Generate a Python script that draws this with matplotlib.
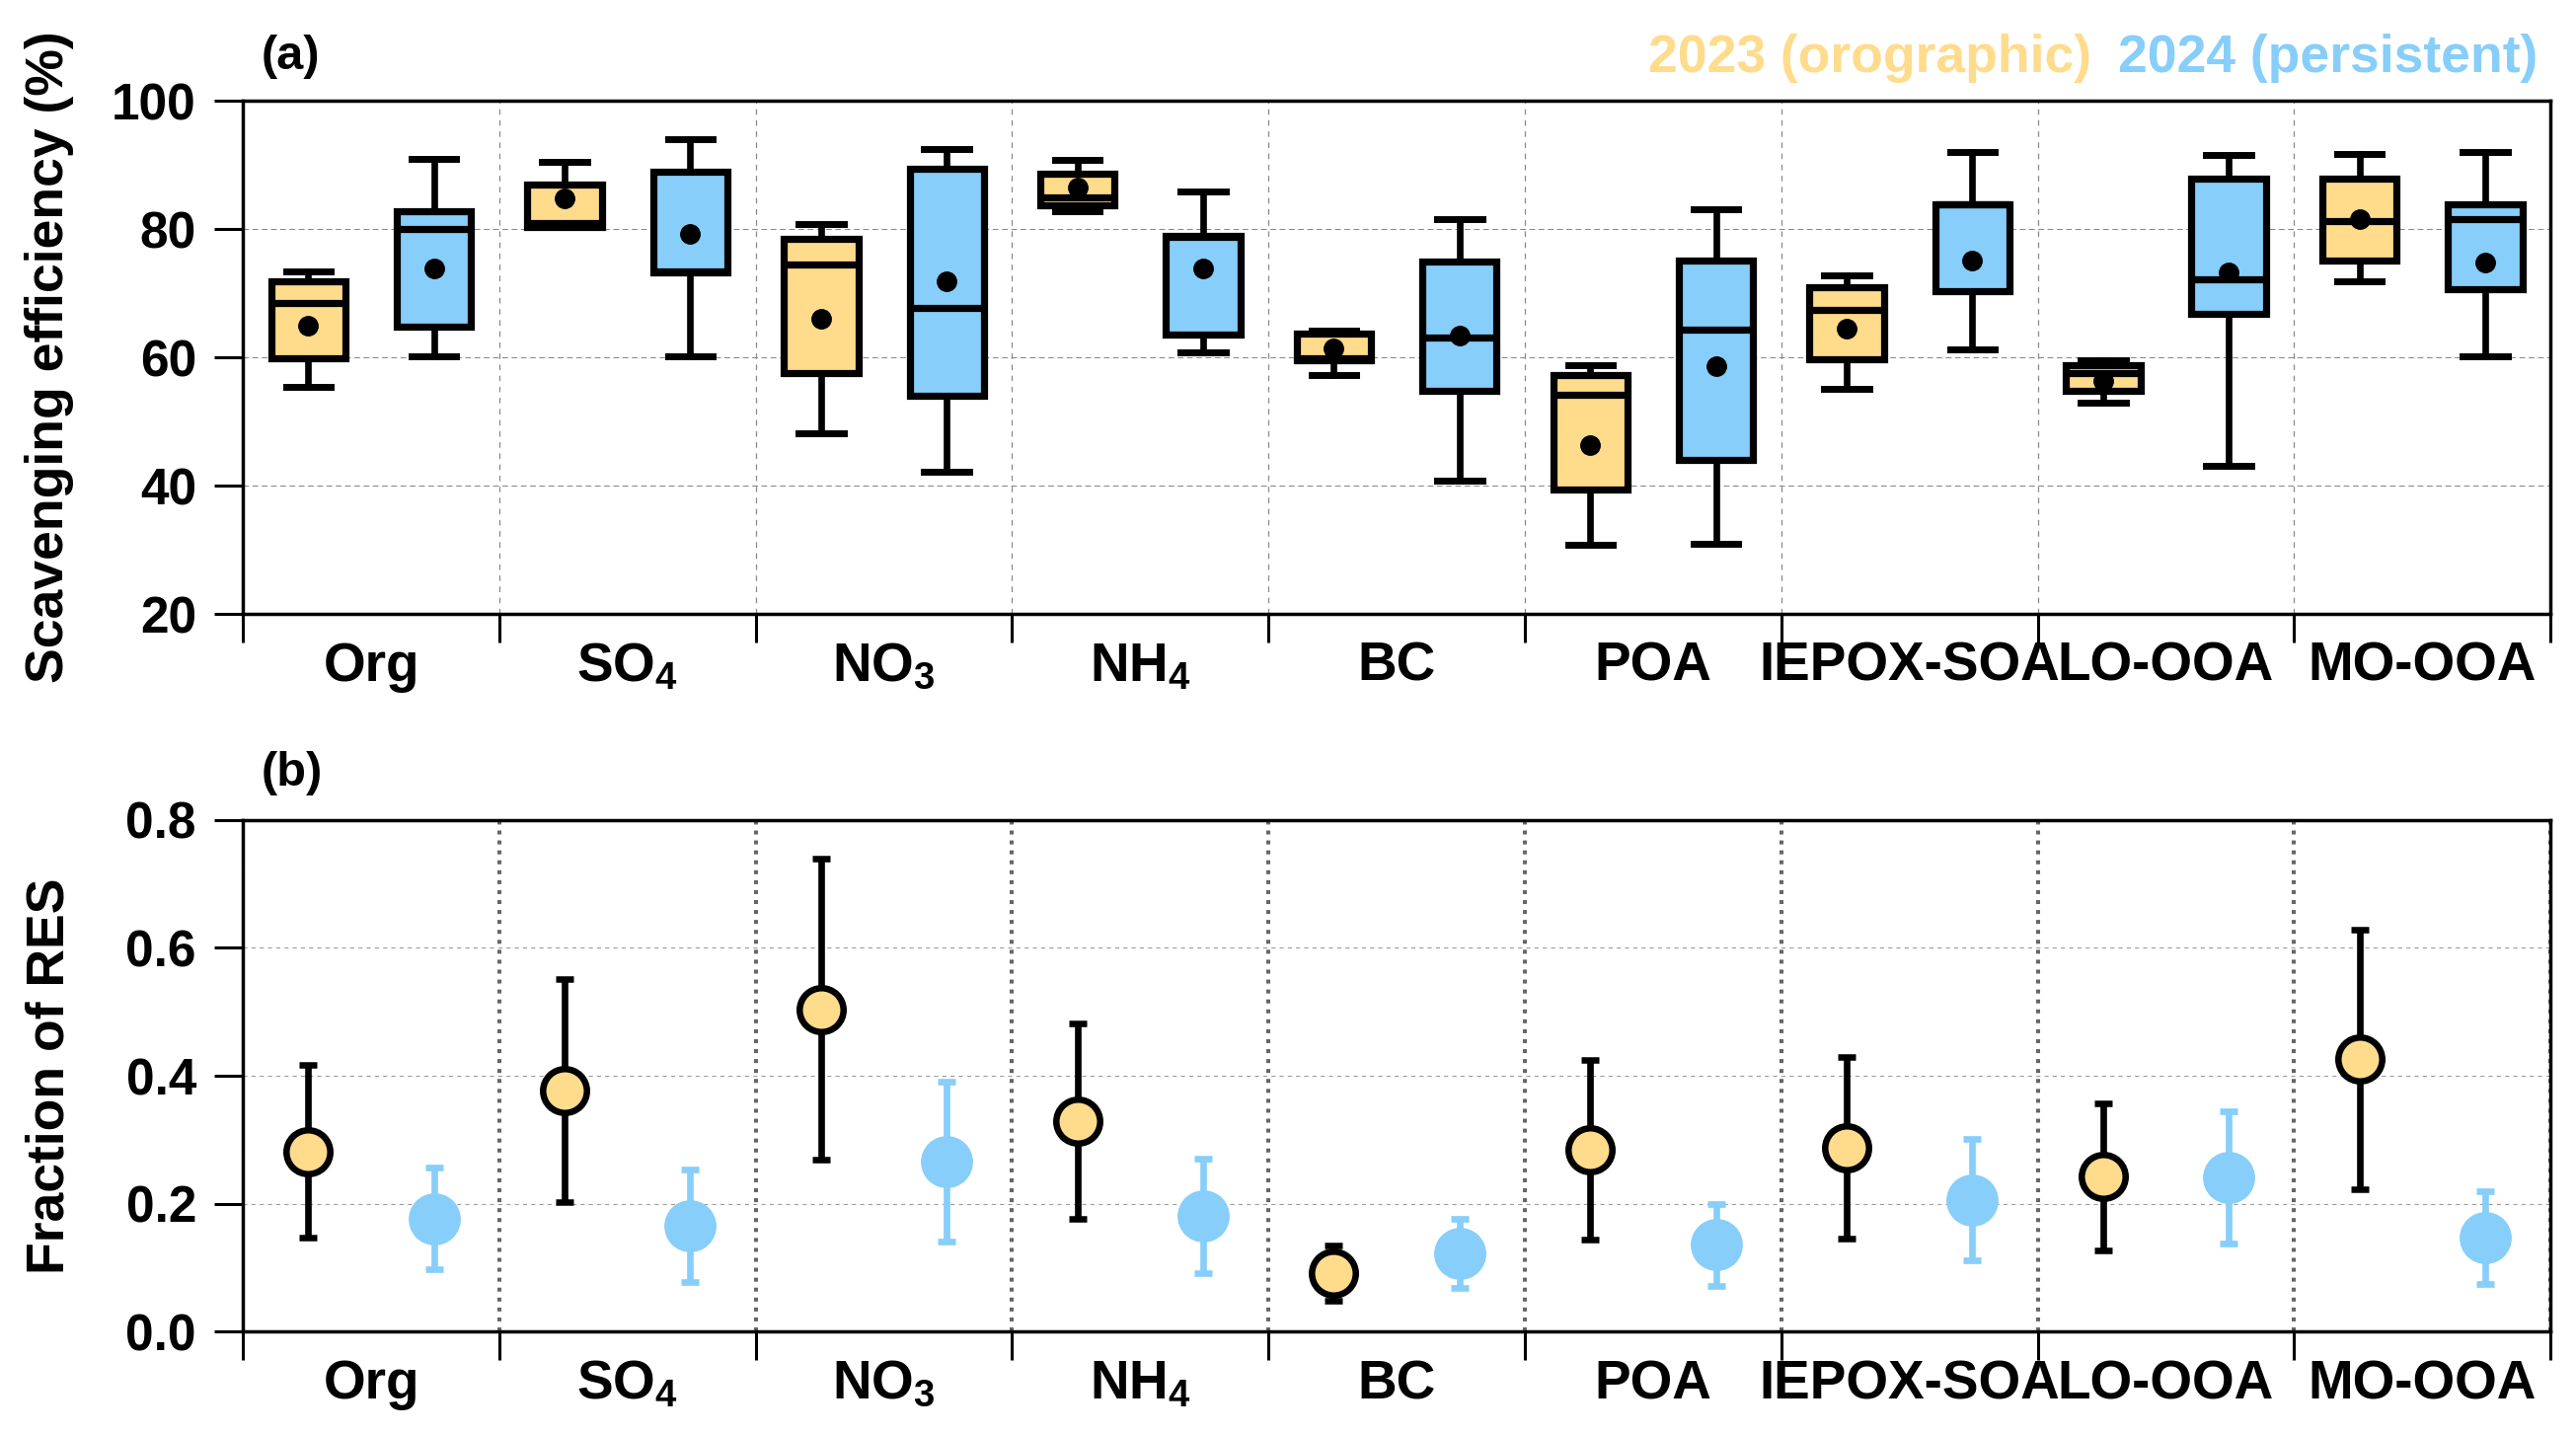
import numpy as np
import matplotlib
matplotlib.use("Agg")
import matplotlib.pyplot as plt
from matplotlib.ticker import FixedLocator, NullFormatter, FixedFormatter

plt.rcParams['font.family'] = ['Liberation Sans', 'DejaVu Sans']
plt.rcParams['font.weight'] = 'bold'
plt.rcParams['axes.labelweight'] = 'bold'
plt.rcParams['mathtext.fontset'] = 'custom'
plt.rcParams['mathtext.rm'] = 'Liberation Sans:bold'
plt.rcParams['mathtext.it'] = 'Liberation Sans:bold'
plt.rcParams['mathtext.bf'] = 'Liberation Sans:bold'

species = ['Org', 'SO$_4$', 'NO$_3$', 'NH$_4$', 'BC', 'POA', 'IEPOX-SOA', 'LO-OOA', 'MO-OOA']

# (a) scavenging efficiency (%), 2023 orographic
se23_whishi = [73.4, 90.4, 80.7, 90.7, 64.2, 58.8, 72.8, 59.5, 91.7]
se23_q3     = [71.8, 86.9, 78.5, 88.6, 63.7, 57.2, 71.0, 58.8, 87.9]
se23_med    = [68.5, 80.9, 74.4, 84.9, 59.8, 54.2, 67.4, 57.6, 81.2]
se23_q1     = [59.9, 80.3, 57.6, 83.7, 59.5, 39.4, 59.7, 54.8, 75.1]
se23_whislo = [55.4, 80.3, 48.1, 82.8, 57.2, 30.8, 55.1, 53.0, 71.8]
se23_mean   = [65.0, 84.8, 66.0, 86.5, 61.4, 46.3, 64.5, 56.3, 81.6]

# (a) scavenging efficiency (%), 2024 persistent
se24_whishi = [90.9, 94.0, 92.5, 85.8, 81.6, 83.1, 92.0, 91.6, 92.0]
se24_q3     = [82.7, 89.0, 89.4, 78.9, 74.9, 75.1, 83.8, 87.9, 83.9]
se24_med    = [80.0, 73.4, 67.7, 78.7, 63.1, 64.3, 83.9, 72.1, 81.6]
se24_q1     = [64.7, 73.3, 54.0, 63.6, 54.8, 44.0, 70.3, 66.8, 70.6]
se24_whislo = [60.1, 60.2, 42.1, 60.7, 40.8, 30.9, 61.2, 43.1, 60.2]
se24_mean   = [73.8, 79.2, 71.9, 73.9, 63.4, 58.6, 75.1, 73.3, 74.7]

# (b) fraction of RES, mean and error
res23_mean = [0.282, 0.377, 0.504, 0.329, 0.092, 0.284, 0.287, 0.242, 0.426]
res23_err  = [0.135, 0.174, 0.235, 0.153, 0.043, 0.140, 0.142, 0.115, 0.203]
res24_mean = [0.177, 0.165, 0.266, 0.181, 0.123, 0.136, 0.206, 0.241, 0.147]
res24_err  = [0.080, 0.088, 0.125, 0.089, 0.054, 0.064, 0.095, 0.104, 0.073]

orange = '#FFDB8C'
blue = '#87CEFA'

n = len(species)
x_mid = np.arange(n) + 0.5
x23 = np.arange(n) + 0.255
x24 = np.arange(n) + 0.745

fig = plt.figure(figsize=(26.1, 14.53), dpi=100)
ax1 = fig.add_axes([0.0943, 0.5719, 0.8958, 0.3579])
ax2 = fig.add_axes([0.0943, 0.0714, 0.8958, 0.3568])


def box_stats(lo, q1, med, q3, hi, mean):
    out = []
    for i in range(len(lo)):
        out.append(dict(whislo=lo[i], q1=q1[i], med=med[i], q3=q3[i],
                        whishi=hi[i], mean=mean[i], fliers=[]))
    return out


def style_axis(ax):
    ax.set_xlim(0, n)
    ax.set_axisbelow(True)
    for sp in ax.spines.values():
        sp.set_linewidth(2.5)
    ax.xaxis.set_major_locator(FixedLocator(np.arange(n + 1)))
    ax.xaxis.set_major_formatter(NullFormatter())
    ax.xaxis.set_minor_locator(FixedLocator(x_mid))
    ax.xaxis.set_minor_formatter(FixedFormatter(species))
    ax.tick_params(axis='x', which='major', direction='out', length=21, width=2.2)
    ax.tick_params(axis='x', which='minor', length=0, pad=20, labelsize=39.5)
    ax.tick_params(axis='y', which='major', direction='out', length=21, width=2.2,
                   pad=13, labelsize=37)
    ax.yaxis.set_label_coords(-0.073, 0.5)


# panel (a)
kw = dict(widths=0.29, capwidths=0.175, showmeans=True, showfliers=False,
          patch_artist=True,
          medianprops=dict(color='k', linewidth=5.2),
          whiskerprops=dict(color='k', linewidth=4.8),
          capprops=dict(color='k', linewidth=5.0),
          meanprops=dict(marker='o', markerfacecolor='k', markeredgecolor='k',
                         markersize=14))
ax1.bxp(box_stats(se23_whislo, se23_q1, se23_med, se23_q3, se23_whishi, se23_mean),
        positions=x23, boxprops=dict(facecolor=orange, edgecolor='k', linewidth=5.2),
        manage_ticks=False, **kw)
ax1.bxp(box_stats(se24_whislo, se24_q1, se24_med, se24_q3, se24_whishi, se24_mean),
        positions=x24, boxprops=dict(facecolor=blue, edgecolor='k', linewidth=5.2),
        manage_ticks=False, **kw)
ax1.set_ylim(20, 100)
ax1.set_yticks([20, 40, 60, 80, 100])
ax1.yaxis.grid(True, color='#888888', linewidth=0.75, linestyle=(0, (5.5, 3.5)))
ax1.xaxis.grid(True, which='major', color='#888888', linewidth=0.9,
               linestyle=(0, (4.5, 4.5)))
ax1.set_ylabel('Scavenging efficiency (%)', fontsize=38.5)
style_axis(ax1)
ax1.text(0.008, 1.0615, '(a)', transform=ax1.transAxes, fontsize=35,
         va='baseline', ha='left')

# panel (b)
ax2.errorbar(x23, res23_mean, yerr=res23_err, fmt='o', color='k', ecolor='k',
             elinewidth=4.8, capsize=6.5, capthick=4.8, markersize=32,
             markerfacecolor=orange, markeredgecolor='k', markeredgewidth=4.7,
             zorder=3)
ax2.errorbar(x24, res24_mean, yerr=res24_err, fmt='o', color=blue, ecolor=blue,
             elinewidth=4.8, capsize=6.5, capthick=4.8, markersize=37,
             markerfacecolor=blue, markeredgecolor=blue, zorder=3)
ax2.set_ylim(0, 0.8)
ax2.set_yticks([0.0, 0.2, 0.4, 0.6, 0.8])
ax2.set_yticklabels(['0.0', '0.2', '0.4', '0.6', '0.8'])
ax2.yaxis.grid(True, color='#999999', linewidth=0.75, linestyle=(0, (4, 4)))
ax2.xaxis.grid(True, which='major', color='#666666', linewidth=2.9,
               linestyle=(0, (1, 1.5)))
ax2.set_ylabel('Fraction of RES', fontsize=38.5)
style_axis(ax2)
ax2.text(0.008, 1.0675, '(b)', transform=ax2.transAxes, fontsize=35,
         va='baseline', ha='left')

# legend as coloured text
fig.text(0.8119, 0.9501, '2023 (orographic)', color=orange, fontsize=38.5,
         ha='right', va='baseline')
fig.text(0.985, 0.9501, '2024 (persistent)', color=blue, fontsize=38.5,
         ha='right', va='baseline')

fig.savefig('out.png', dpi=100)
